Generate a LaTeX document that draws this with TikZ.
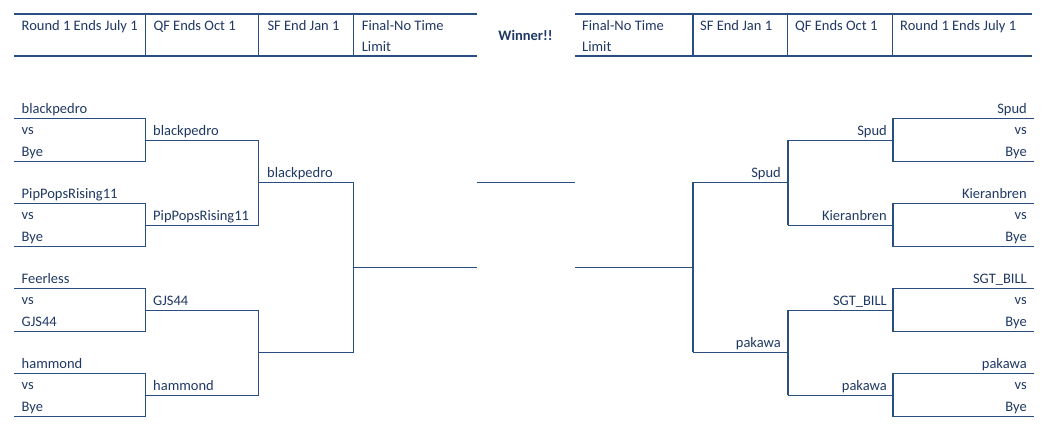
\documentclass[tikz,border=0pt]{standalone}
\usepackage{fontspec}
\setmainfont{Carlito}
\definecolor{ln}{HTML}{2A4D82}
\definecolor{tx}{HTML}{1F3864}
\begin{document}
\begin{tikzpicture}[x=1pt,y=-1pt,
  br/.style={draw=ln, line width=1.3pt},
  lt/.style={anchor=base west, inner sep=0pt, text=tx, font=\fontsize{14.5}{17}\selectfont},
  rt/.style={anchor=base east, inner sep=0pt, text=tx, font=\fontsize{14.5}{17}\selectfont},
  win/.style={anchor=base, inner sep=0pt, text=tx, font=\fontsize{14.5}{17}\selectfont\bfseries}]
\useasboundingbox (0,0) rectangle (1045,432);
% header left
\draw[br] (14,14) -- (477,14);
\draw[br] (14,56) -- (477,56);
\foreach \x in {145.5,258.5,353.5} \draw[br] (\x,14) -- (\x,56);
\node[lt] (hl1) at (21.5,30.5) {Round 1 Ends July 1};
\node[lt] (hl2) at (153.3,30.5) {QF Ends Oct 1};
\node[lt] (hl3) at (267.3,30.5) {SF End Jan 1};
\node[lt] (hl4) at (361.7,30.5) {Final-No Time};
\node[lt] (hl5) at (361.7,51.5) {Limit};
% header right
\draw[br] (575,14) -- (1032,14);
\draw[br] (575,56) -- (1032,56);
\foreach \x in {693,787.5,892.5} \draw[br] (\x,14) -- (\x,56);
\node[lt] (hr4) at (582,30.5) {Final-No Time};
\node[lt] (hr5) at (582,51.5) {Limit};
\node[lt] (hr3) at (700,30.5) {SF End Jan 1};
\node[lt] (hr2) at (795,30.5) {QF Ends Oct 1};
\node[lt] (hr1) at (900,30.5) {Round 1 Ends July 1};
\node[win] (winner) at (525.5,40) {Winner!!};
% left matches
\foreach \y/\a/\b/\w/\n in {118.3/blackpedro/Bye/blackpedro/1,203.3/PipPopsRising11/Bye/PipPopsRising11/2,288.3/Feerless/GJS44/GJS44/3,373.3/hammond/Bye/hammond/4}{
  \node[lt] (L\n a) at (21.5,\y-5.3) {\a};
  \node[lt] (L\n v) at (21.5,\y+16.2) {vs};
  \node[lt] (L\n b) at (21.5,\y+37.7) {\b};
  \node[lt] (L\n w) at (153,\y+16.7) {\w};
  \draw[br] (14,\y) -- (145.5,\y) -- (145.5,\y+43) -- (14,\y+43);
  \draw[br] (145.5,\y+22) -- (258.5,\y+22);
}
% right matches
\foreach \y/\a/\b/\w/\n in {118.3/Spud/Bye/Spud/1,203.3/Kieranbren/Bye/Kieranbren/2,288.3/SGT\_BILL/Bye/SGT\_BILL/3,373.3/pakawa/Bye/pakawa/4}{
  \node[rt] (R\n a) at (1027,\y-5.3) {\a};
  \node[rt] (R\n v) at (1027,\y+16.2) {vs};
  \node[rt] (R\n b) at (1027,\y+37.7) {\b};
  \node[rt] (R\n w) at (887,\y+16.7) {\w};
  \draw[br] (1034,\y) -- (893,\y) -- (893,\y+43) -- (1034,\y+43);
  \draw[br] (893,\y+22) -- (788,\y+22);
}
% left semis and final
\draw[br] (258.5,140.3) -- (258.5,225.3);
\draw[br] (258.5,182.3) -- (353.5,182.3);
\draw[br] (258.5,310.3) -- (258.5,395.3);
\draw[br] (258.5,352.3) -- (353.5,352.3);
\node[lt] (Lsf1) at (267,177) {blackpedro};
\draw[br] (353.5,182.3) -- (353.5,352.3);
\draw[br] (353.5,267.3) -- (477,267.3);
% winner line
\draw[br] (477,182.3) -- (575,182.3);
% right semis and final
\draw[br] (788,140.3) -- (788,225.3);
\draw[br] (788,182.3) -- (693,182.3);
\draw[br] (788,310.3) -- (788,395.3);
\draw[br] (788,352.3) -- (693,352.3);
\node[rt] (Rsf1) at (781,177) {Spud};
\node[rt] (Rsf2) at (781,347) {pakawa};
\draw[br] (693,182.3) -- (693,352.3);
\draw[br] (693,267.3) -- (575,267.3);
\end{tikzpicture}
\end{document}
